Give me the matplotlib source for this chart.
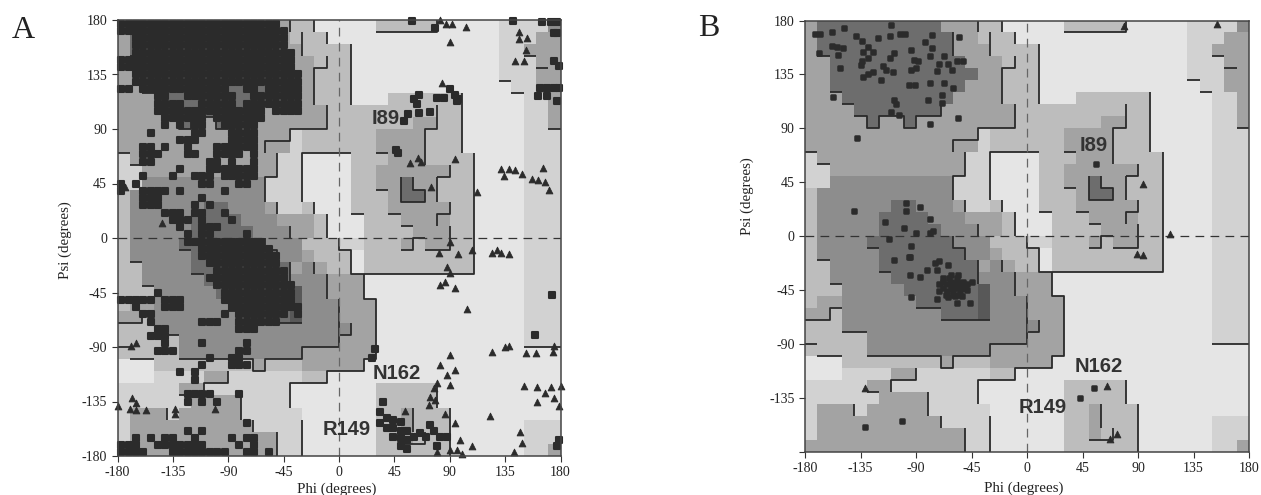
import numpy as np
import matplotlib
matplotlib.use("Agg")
import matplotlib.pyplot as plt
from matplotlib.colors import ListedColormap, BoundaryNorm

TICKS = [-180, -135, -90, -45, 0, 45, 90, 135, 180]
TICK_LABELS = ["-180", "-135", "-90", "-45", "0", "45", "90", "135", "180"]
B_Y_LABELS = ["", "-135", "-90", "-45", "0", "45", "90", "135", "180"]

SHADES = ["#e5e5e5", "#d2d2d2", "#bdbdbd", "#a3a3a3", "#8d8d8d", "#6d6d6d", "#585858"]

# one row per 10 degrees of psi from the top, one digit per 10 degrees of phi
REGION_ROWS = [
    "3 5555555555 333 22 00000 22222 00000 1111 4",
    "3 55555555555 33 222 00000000000000 111 33",
    "3 55555555555 333 2222 000000000000 11 333",
    "33 55555555555 333 222 000000000000 111 33",
    "33 555555555555 33 222 000000000000 111 33",
    "33 55555555555 333 222 0000000000000 11 33",
    "333 555555555 3333 222 000 222222 00000 11 3",
    "3333 5555555 333333 22 222222222 00000 11 3",
    "33333 5 33 5 33333333 22 22222 33 22 00000 11 3",
    "33333333333333 1 222222 3333 222 00000 111",
    "33333333333333 1 222222 3333 222 00000 111",
    "1 333333333333 11 0000 222 333 2222 0000 111",
    "11 33333333333 11 0000 22 333333 22 0000 111",
    "11 4444444444 111 0000 22 33 5 33 222 0000 111",
    "2 44444444444 111 0000 222 3 55 3 222 0000 111",
    "2 444444 55 444 3 11 2 000 222 33333 22 0000 111",
    "2 44444 5555 444 3 33 2 000 222 3333 22 0000 111",
    "2 44444 55555 444 33 2 000 2222 333 22 0000 111",
    "2 4444 5555555 444 222 11 222 3 2 33 22 0000 111",
    "2 44444 5555555 44 3 222 0 222222222 0000 111",
    "22 4444 55555555 3 4 3 22 0 222222222 0000 111",
    "22 44444 5555555 444 333 0000000000000 111",
    "222 44444 555555 6 44 333 0000000000000 111",
    "2 33 444444 55555 6 444 333 000000000000 111",
    "33 2 44444444 555 6 444 333 000000000000 111",
    "222 444444444444444 4 33 000000000000 111",
    "22222 4444444444444 333 000000000000 111",
    "22222 4444444444 333333 000000000000000",
    "000 22222222 3 222 33333 0000000000000000",
    "000 1111 33 111111 22 0000000000000000000",
    "11111 33 1111111 0 000000 22222 0000000000",
    "111111 3333 1111 0 000000 22222 0000000000",
    "1 333 1 33333 1111 1 000000 22 3 222 000000000",
    "1 3333333333 111 1 000000 22 3 222 000000 111",
    "1 333333333333 1 1 000000 22 3 222 000000 111",
    "3333333333333 11 000000 22 2 222 000000 11 3",
]

# boundary lines in degrees (phi, psi)
REGION_LINES = [
    [(-180, 70), (-170, 70)], [(-170, 60), (-160, 60)],
    [(-170, 150), (-160, 150)], [(-160, 120), (-150, 120)], [(-150, 110), (-140, 110)],
    [(-140, 100), (-130, 100), (-130, 90), (-120, 90), (-120, 100), (-100, 100), (-100, 90),
     (-90, 90), (-90, 100), (-70, 100), (-70, 110)],
    [(-60, 170), (-60, 150)], [(-40, 180), (-40, 170)], [(-30, 170), (-30, 150)],
    [(-20, 180), (-20, 170)], [(-10, 170), (-10, 160)],
    [(10, 160), (10, 110)],
    [(-10, 150), (-10, 140), (-20, 140), (-20, 110)],
    [(-10, 110), (-10, 90), (-40, 90), (-40, 80), (-60, 80), (-60, 70)],
    [(-50, 70), (-50, 50), (-60, 50), (-60, 30)], [(-50, 30), (-50, 20)], [(-40, 10), (-40, 0)],
    [(-30, 30), (-30, 70), (10, 70)], [(-20, 30), (-20, 20)], [(-10, 20), (-10, 0)],
    [(0, 0), (0, -10), (10, -10), (10, -30), (20, -30), (110, -30), (110, 70)],
    [(20, -30), (20, -50), (30, -50), (30, -100), (20, -100), (20, -110), (-10, -110), (-10, -120),
     (-40, -120), (-40, -140)],
    [(-30, -150), (-30, -180)], [(-50, -160), (-50, -180)], [(-70, -150), (-70, -160)],
    [(-80, -130), (-80, -150)], [(-90, -110), (-90, -120), (-110, -120), (-110, -130)],
    [(-130, -130), (-120, -130)], [(-140, -140), (-140, -150)],
    [(-170, -100), (-150, -100)], [(-130, -100), (-70, -100), (-70, -110), (-60, -110), (-60, -100),
     (-30, -100), (-30, -90), (0, -90), (0, -50)],
    [(10, -70), (10, -80), (0, -80)], [(-10, -30), (-10, -50)], [(-20, -20), (-20, -30)],
    [(-180, -70), (-160, -70), (-160, -60), (-150, -60)], [(-160, -40), (-150, -40)],
    [(-170, -20), (-160, -20)], [(-150, -80), (-130, -80)], [(-70, -70), (-30, -70)],
    [(-90, -60), (-70, -60)], [(-120, -30), (-110, -30)], [(-130, -10), (-120, -10)],
    [(-180, -90), (-170, -90)], [(-60, 0), (-60, -10), (-50, -10), (-50, -20)], [(-40, -20), (-40, -40)],
    [(80, 110), (80, 90), (70, 90), (70, 60)], [(30, 70), (40, 70)], [(100, 120), (100, 70)],
    [(80, 50), (90, 50), (90, 60)], [(80, 50), (80, 30)], [(30, 40), (40, 40)],
    [(60, 50), (60, 40), (70, 40), (70, 30), (50, 30), (50, 50)],
    [(10, 20), (20, 20)], [(40, 20), (50, 20)], [(50, 10), (60, 10)],
    [(90, 30), (90, 20), (80, 20), (80, 10)], [(90, 10), (90, -10), (70, -10)],
    [(50, -10), (60, -10), (60, 0), (70, 0)],
    [(30, 170), (80, 170), (80, 180)], [(80, -120), (80, -140)], [(90, -140), (90, -180)],
    [(60, -140), (60, -160)], [(50, -170), (70, -170), (70, -160)],
    [(130, 130), (140, 130)], [(140, 120), (150, 120)], [(150, 150), (160, 150)],
    [(160, 140), (170, 140)], [(170, 90), (180, 90)], [(150, -90), (180, -90)],
]

# panel A, left part: one character per 6 degrees of phi and psi, # is a residue
A_DENSE = [
    "######################...",
    "#######################..",
    "..#####################..",
    "..#####################..",
    "..######################.",
    "########################.",
    "########################.",
    "..#######################",
    "..#######################",
    "##.############..##.#####",
    ".....##..#######..#######",
    ".....####..#####.########",
    ".....###############.####",
    "......######.#######.....",
    "......#.#.##..#####......",
    "....#.....##...####......",
    "........###....####......",
    "...##.#..#...######......",
    "...###...##..####.#......",
    "...##.......##.#..#......",
    "........#...#######......",
    "...#...#..###.#####......",
    "#.#........##...##.......",
    "#..####.#.....#..........",
    "...###.....#.............",
    "...###....#.#............",
    "......###.##..#..........",
    ".......###.#...#.........",
    "........#..###...........",
    ".........#.##....#.......",
    ".........###########.....",
    "...........##########....",
    "...........###########...",
    "............##########...",
    ".............##########..",
    "............###########..",
    ".............###########.",
    ".....#........##########.",
    "#####.###.....##########.",
    "..#...###......##########",
    "...##.........#.#######.#",
    "....#......###..######...",
    ".....##.........###......",
    "....###..................",
    "......#....#.....#.......",
    ".....###........##.......",
    "............#..##........",
    "...........#...###.......",
    "........#.#..............",
    "..........#..............",
    ".........................",
    ".........####...#........",
    ".........#.#.#...........",
    ".........................",
    ".........................",
    ".................#.......",
    ".........#.#.............",
    "..#.#.##..#....#.##......",
    "###..#######....#.#......",
    "####...########..##.#....",
]

A_SQ_PHI = [59, 78, 65, 63, 65, 61, 56, 53, 74, 80, 85, 94, 97, 90, 96, 46, 48, 141, 165, 172, 177, 175, 177, 175,
            179, 163, 169, 175, 179, 162, 169, 177, 29, 27, 173, 159, 36, 33, 33, 39, 44, 50, 39, 44, 50, 55, 44,
            50, 55, 61, 50, 55, 66, 71, 77, 82, 88, 80, 74, 179, 177]
A_SQ_PSI = [179, 173, 118, 111, 103, 115, 102, 97, 104, 116, 116, 118, 115, 123, 113, 73, 70, 179, 178, 178, 178,
            169, 169, 146, 142, 124, 124, 124, 124, 117, 117, 113, -92, -99, -47, -80, -135, -144, -153, -149, -150,
            -152, -157, -157, -159, -159, -164, -165, -167, -164, -172, -174, -161, -164, -159, -164, -164, -172,
            -154, -167, -172]
A_TRI_PHI = [84, 87, 82, 92, 103, 90, 146, 153, 146, 152, 143, 150, 58, 64, 67, 94, 75, 112, 132, 138, 143, 149, 134,
             166, 157, 162, 167, 171, 90, 124, 128, 132, 138, 88, 90, 86, 82, 94, 97, 81, 108, 104, 90, 82, 94, 88,
             90, 80, 77, 74, 73, 78, 124, 135, 138, 152, 160, 175, 174, 150, 161, 167, 161, 172, 180, 175, 179, 123,
             94, 86, 54, 147, 149, 142, 108, 98, 90, 96, 100, 80, -174, -144, -180, -168, -165, -170, -165, -157,
             -133, -133, -101, -165, -169]
A_TRI_PSI = [128, 177, 180, 177, 174, 162, 170, 165, 164, 155, 146, 146, 62, 66, 63, 65, 42, 38, 57, 57, 56, 53, 51,
             58, 49, 48, 46, 40, -3, -12, -10, -12, -13, -24, -29, -36, -39, -41, -13, -12, -10, -59, -97, -105, -109,
             -113, -121, -120, -124, -131, -138, -134, -94, -90, -89, -95, -95, -89, -94, -122, -123, -128, -135,
             -123, -122, -132, -139, -147, -153, -145, -143, -160, -169, -177, -172, -167, -175, -175, -178, -177,
             42, 12, -139, -132, -136, -141, -142, -142, -141, -145, -141, -87, -89]

B_SQ_PHI = [-172, -168, -169, -158, -148, -139, -134, -158, -154, -149, -153, -152, -133, -129, -125, -129, -134,
            -135, -121, -111, -103, -99, -110, -108, -111, -117, -114, -109, -133, -129, -125, -118, -94, -92, -88,
            -90, -94, -96, -91, -79, -83, -77, -77, -79, -67, -64, -71, -57, -52, -61, -73, -67, -60, -69, -69, -80,
            -108, -106, -110, -104, -79, -157, -138, -56, -55, -140, -98, -98, -87, -115, -79, -100, -90, -79, -76,
            -112, -94, -95, -108, -96, -95, -87, -81, -75, -71, -64, -73, -68, -63, -57, -71, -65, -60, -54, -49, -71,
            -65, -60, -54, -49, -45, -64, -58, -53, -94, -73, -57, -46, -101, -131, 56, 54, 43,
            -68, -62, -57, -52, -68, -62, -57, -52, -66, -60, -55, -62, -56, -50]
B_SQ_PSI = [169, 169, 153, 170, 174, 167, 163, 159, 158, 157, 151, 140, 154, 158, 154, 149, 146, 143, 165, 167, 169,
            169, 176, 153, 149, 142, 139, 137, 133, 135, 137, 130, 155, 147, 146, 140, 139, 126, 126, 128, 162, 168,
            157, 150, 150, 144, 144, 146, 146, 139, 138, 128, 124, 118, 111, 114, 114, 110, 104, 101, 94, 116, 82, 99,
            166, 21, 28, 21, 24, 12, 14, 7, 3, 3, 4, -2, -8, -17, -20, -17, -32, -34, -28, -22, -21, -24, -28, -35, -35,
            -35, -40, -40, -40, -40, -40, -46, -46, -46, -46, -45, -38, -51, -50, -50, -51, -52, -56, -56, -154, -159,
            60, -127, -135,
            -43, -43, -43, -43, -38, -38, -38, -38, -49, -49, -49, -32, -32, -43]
B_TRI_PHI = [-131, 94, 116, 89, 94, 65, 73, 67, 79, 154]
B_TRI_PSI = [-127, 44, 2, -15, -16, -125, -165, -169, 175, 177]

A_NOTES = [("I89", 38, 99), ("N162", 47, -112), ("R149", 6, -158)]
B_NOTES = [("I89", 54, 76), ("N162", 58, -108.5), ("R149", 13, -143)]


def dense_points(rows):
    phi, psi = [], []
    for m, row in enumerate(rows):
        for k, ch in enumerate(row):
            if ch == "#":
                phi.append(-177 + 6 * k)
                psi.append(177 - 6 * m)
    return phi, psi


def draw_panel(ax, sq_phi, sq_psi, tri_phi, tri_psi, notes, y_labels, sq_size, sq_edge):
    grid = np.array([[int(c) for c in row.replace(" ", "")] for row in REGION_ROWS])[::-1]
    edges = np.arange(-180, 181, 10)
    cmap = ListedColormap(SHADES)
    norm = BoundaryNorm(np.arange(-0.5, 7), cmap.N)
    ax.pcolormesh(edges, edges, grid, cmap=cmap, norm=norm, zorder=1)

    for line in REGION_LINES:
        xs, ys = zip(*line)
        ax.plot(xs, ys, color="#2a2a2a", lw=1.3, solid_capstyle="butt", zorder=2)

    ax.axhline(0, color="#333333", lw=0.9, ls=(0, (7, 5)), zorder=3)
    ax.axvline(0, color="#666666", lw=0.9, ls=(0, (7, 5)), zorder=3)

    ax.scatter(sq_phi, sq_psi, marker="s", s=sq_size, c="#2b2b2b", edgecolors="#2b2b2b", linewidths=sq_edge,
               joinstyle="round", clip_on=False, zorder=4)
    ax.scatter(tri_phi, tri_psi, marker="^", s=24, c="#2b2b2b", edgecolors="#2b2b2b", linewidths=0.6,
               clip_on=False, zorder=4)

    for text, phi, psi in notes:
        ax.text(phi, psi, text, fontsize=14.5, fontweight="bold", family="Liberation Sans",
                color="#333333", ha="center", va="center", zorder=5)

    ax.set_xlim(-180, 180)
    ax.set_ylim(-180, 180)
    ax.set_xticks(TICKS)
    ax.set_xticklabels(TICK_LABELS)
    ax.set_yticks(TICKS)
    ax.set_yticklabels(y_labels)
    ax.tick_params(length=4, width=0.8, pad=3.5, labelsize=10, color="#333333", labelcolor="#222222")
    for spine in ax.spines.values():
        spine.set_linewidth(1.1)
        spine.set_color("#444444")
        spine.set_zorder(6)


plt.rcParams["font.family"] = ["Liberation Serif", "DejaVu Serif"]

W, H = 1261, 495
fig = plt.figure(figsize=(W / 100, H / 100), dpi=100)
ax_a = fig.add_axes([117.5 / W, (H - 456) / H, 443 / W, 436 / H])
ax_b = fig.add_axes([805 / W, (H - 452) / H, 444 / W, 431.5 / H])

dense_phi, dense_psi = dense_points(A_DENSE)
draw_panel(ax_a, dense_phi + A_SQ_PHI, dense_psi + A_SQ_PSI, A_TRI_PHI, A_TRI_PSI, A_NOTES, TICK_LABELS, 25, 1.5)
draw_panel(ax_b, B_SQ_PHI, B_SQ_PSI, B_TRI_PHI, B_TRI_PSI, B_NOTES, B_Y_LABELS, 9, 1.8)

fig.text(23 / W, 1 - 31 / H, "A", fontsize=23, color="#222222", ha="center", va="center")
fig.text(709 / W, 1 - 28 / H, "B", fontsize=23, color="#222222", ha="center", va="center")
fig.text(337 / W, 1 - 489 / H, "Phi (degrees)", fontsize=10.8, color="#222222", ha="center", va="center")
fig.text(1024 / W, 1 - 488 / H, "Phi (degrees)", fontsize=10.8, color="#222222", ha="center", va="center")
fig.text(65 / W, 1 - 240 / H, "Psi (degrees)", fontsize=10.8, color="#222222", rotation=90, ha="center", va="center")
fig.text(747 / W, 1 - 196 / H, "Psi (degrees)", fontsize=10.8, color="#222222", rotation=90, ha="center", va="center")

fig.savefig("out.png", dpi=100)
